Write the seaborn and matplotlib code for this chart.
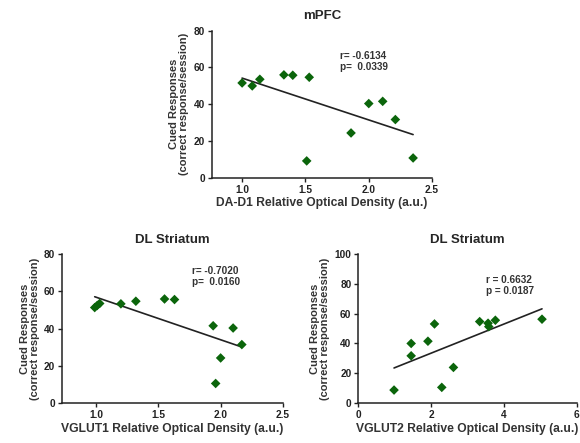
import pandas as pd
import seaborn as sns
import matplotlib.pyplot as plt

# mPFC: DA-D1 optical density vs cued responses
d1_density = [1.00, 1.08, 1.14, 1.33, 1.40, 1.53, 1.51, 1.86, 2.00, 2.11, 2.21, 2.35]
d1_cued = [51.5, 49.9, 53.5, 55.9, 55.7, 54.6, 9.1, 24.3, 40.3, 41.5, 31.6, 10.7]

# DL striatum: VGLUT1
vglut1_density = [0.99, 1.01, 1.03, 1.20, 1.32, 1.55, 1.63, 1.94, 2.10, 2.17, 2.00, 1.96]
vglut1_cued = [51.3, 52.4, 53.5, 53.3, 54.7, 55.9, 55.6, 41.5, 40.3, 31.4, 24.2, 10.5]

# DL striatum: VGLUT2
vglut2_density = [0.98, 1.45, 1.45, 1.91, 2.09, 2.29, 2.61, 3.33, 3.56, 3.58, 3.76, 5.04]
vglut2_cued = [8.7, 31.7, 40.0, 41.5, 53.1, 10.5, 23.9, 54.7, 53.6, 51.3, 55.6, 56.3]

stats = ["r= -0.6134\np=  0.0339", "r= -0.7020\np=  0.0160", "r = 0.6632\np = 0.0187"]

sns.set_style("ticks")
plt.rcParams["font.family"] = ["Liberation Sans", "DejaVu Sans"]
plt.rcParams["font.weight"] = "bold"

fig = plt.figure(figsize=(5.8, 4.43), dpi=100)
ax1 = fig.add_axes([0.365, 0.599, 0.380, 0.332])
ax2 = fig.add_axes([0.1074, 0.0903, 0.3805, 0.336])
ax3 = fig.add_axes([0.6178, 0.0903, 0.377, 0.336])

panels = [
    (ax1, d1_density, d1_cued, "mPFC", "DA-D1 Relative Optical Density (a.u.)",
     (0.76, 2.5), [1.0, 1.5, 2.0, 2.5], (0, 80), [0, 20, 40, 60, 80], (1.77, 68.8)),
    (ax2, vglut1_density, vglut1_cued, "DL Striatum", "VGLUT1 Relative Optical Density (a.u.)",
     (0.73, 2.5), [1.0, 1.5, 2.0, 2.5], (0, 80), [0, 20, 40, 60, 80], (1.77, 73.5)),
    (ax3, vglut2_density, vglut2_cued, "DL Striatum", "VGLUT2 Relative Optical Density (a.u.)",
     (0, 6), [0, 2, 4, 6], (0, 100), [0, 20, 40, 60, 80, 100], (3.5, 86)),
]

for i, (ax, xs, ys, title, xlabel, xlim, xticks, ylim, yticks, txt_pos) in enumerate(panels):
    df = pd.DataFrame({"density": xs, "cued": ys})
    sns.regplot(data=df, x="density", y="cued", ax=ax, ci=None, marker="D",
                scatter_kws={"color": "#0b650b", "s": 24, "alpha": 1,
                             "edgecolor": "none", "zorder": 3},
                line_kws={"color": "#222222", "lw": 1.2})
    ax.set_xlim(*xlim)
    ax.set_ylim(*ylim)
    ax.set_xticks(xticks)
    ax.set_yticks(yticks)
    if xticks[0] == 0:
        ax.set_xticklabels([str(t) for t in xticks])
    else:
        ax.set_xticklabels([f"{t:.1f}" for t in xticks])
    ax.set_title(title, fontsize=9.5, fontweight="bold", pad=8)
    ax.set_xlabel(xlabel, fontsize=8.7, fontweight="bold", color="#333333", labelpad=2)
    ax.set_ylabel("Cued Responses\n(correct response/session)", fontsize=8,
                  fontweight="bold", color="#333333", labelpad=3, linespacing=1.0)
    ax.tick_params(labelsize=7.3, length=3, width=1, colors="#222222", pad=2)
    for lab in ax.get_xticklabels() + ax.get_yticklabels():
        lab.set_fontweight("bold")
    for s in ["left", "bottom"]:
        ax.spines[s].set_linewidth(1.1)
        ax.spines[s].set_color("#222222")
    sns.despine(ax=ax)
    ax.text(txt_pos[0], txt_pos[1], stats[i], fontsize=7.2, fontweight="bold",
            color="#333333", va="top", ha="left", linespacing=1.1)

fig.savefig("out.png", dpi=100)
